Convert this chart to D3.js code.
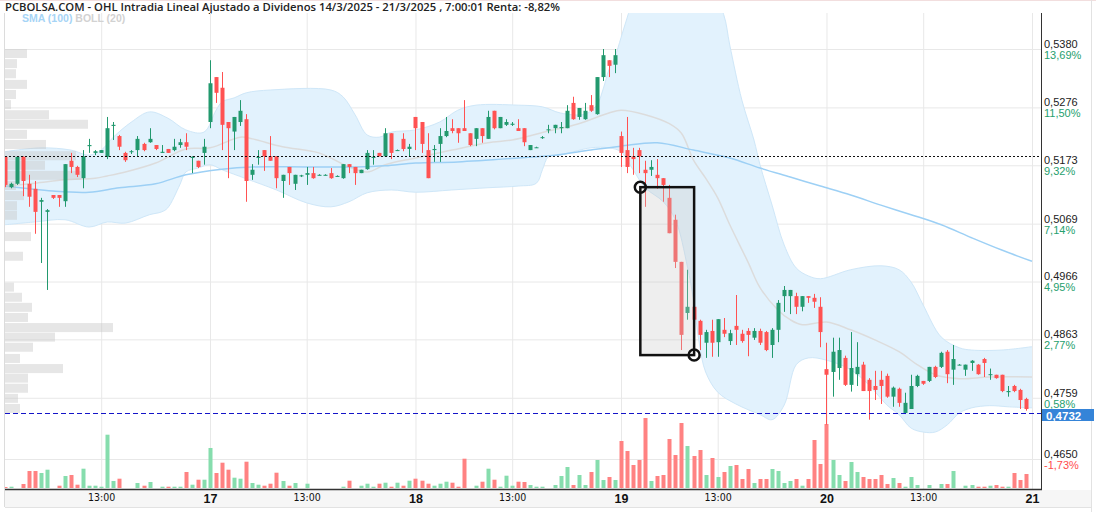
<!DOCTYPE html>
<html>
<head>
<meta charset="utf-8">
<script src="https://cdn.jsdelivr.net/npm/d3@7"></script>
<style>
body { margin: 0; background: #fff; }
svg { display: block; font-family: "Liberation Sans", Arial, sans-serif; }
</style>
</head>
<body>
<div id="chart"></div>
<script>
// 15 minute candles, 14/3 (from 9:00) to 20/3 close; index 0 = 14/3 9:00
var opens = [
  .5188,.5134,.5140,.5188,.5140,.5131,.5108,.5090,.5120,.5120,.5109,.5181,.5170,.5150,.5207,.5195,.5195,.5188,.5243,.5225,
  .5195,.5197,.5200,.5211,.5214,.5209,.5195,.5202,.5200,.5209,.5214,.5186,.5181,.5195,
  // 17
  .5250,.5330,.5311,.5250,.5233,.5250,.5255,.5156,.5186,.5200,.5189,.5189,.5145,.5170,.5140,.5154,.5156,.5159,.5156,.5156,
  .5159,.5154,.5150,.5175,.5170,.5159,.5166,.5186,.5195,.5189,.5230,.5200,.5220,.5202,
  // 18
  .5259,.5250,.5200,.5200,.5211,.5225,.5239,.5239,.5239,.5230,.5220,.5239,.5220,.5270,.5239,.5245,.5245,.5239,.5239,.5200,
  .5205,.5222,.5236,.5239,.5239,.5239,.5284,.5259,.5255,.5280,.5264,.5330,.5360,.5352,
  // 19
  .5225,.5200,.5189,.5200,.5165,.5165,.5156,.5150,.5115,.5076,.5001,.4910,.4921,.4896,.4857,.4878,.4858,.4880,.4860,.4887,
  .4873,.4878,.4866,.4878,.4876,.4853,.4880,.4940,.4940,.4940,.4921,.4940,.4937,.4921,
  // 20
  .4810,.4805,.4812,.4830,.4782,.4801,.4818,.4791,.4780,.4791,.4798,.4761,.4775,.4732,.4739,.4780,.4789,.4789,.4814,.4814,
  .4841,.4809,.4818,.4809,.4821,.4818,.4828,.4800,.4800,.4800,.4769,.4780,.4773,.4757
];
var highs = [
  .5189,.5142,.5189,.5189,.5156,.5145,.5115,.5095,.5120,.5120,.5175,.5195,.5172,.5200,.5220,.5200,.5200,.5259,.5250,.5227,
  .5197,.5200,.5225,.5213,.5239,.5209,.5209,.5202,.5220,.5220,.5230,.5189,.5181,.5220,
  .5360,.5330,.5339,.5250,.5259,.5289,.5264,.5175,.5200,.5200,.5225,.5189,.5156,.5170,.5156,.5156,.5170,.5170,.5157,.5157,
  .5168,.5155,.5175,.5175,.5170,.5165,.5200,.5200,.5195,.5239,.5230,.5201,.5230,.5211,
  .5259,.5250,.5230,.5209,.5239,.5259,.5255,.5239,.5289,.5230,.5239,.5239,.5270,.5270,.5259,.5255,.5250,.5255,.5239,.5209,
  .5206,.5225,.5245,.5245,.5250,.5280,.5295,.5275,.5284,.5298,.5330,.5380,.5360,.5380,
  .5233,.5259,.5204,.5204,.5181,.5182,.5184,.5150,.5138,.5085,.5001,.4987,.4924,.4898,.4880,.4898,.4899,.4901,.4880,.4942,
  .4880,.4883,.4883,.4882,.4878,.4883,.4933,.4958,.4951,.4946,.4940,.4940,.4944,.4938,
  .4857,.4866,.4866,.4834,.4876,.4858,.4823,.4794,.4807,.4807,.4802,.4779,.4777,.4768,.4800,.4800,.4789,.4814,.4816,.4841,
  .4844,.4853,.4819,.4818,.4826,.4819,.4830,.4811,.4800,.4800,.4780,.4782,.4775,.4759
];
var lows = [
  .5134,.5132,.5138,.5118,.5099,.5051,.4999,.4951,.5113,.5099,.5099,.5159,.5152,.5132,.5195,.5191,.5195,.5184,.5218,.5200,
  .5179,.5193,.5188,.5198,.5213,.5200,.5195,.5195,.5198,.5204,.5200,.5159,.5168,.5174,
  .5239,.5284,.5200,.5150,.5200,.5243,.5108,.5147,.5174,.5163,.5181,.5132,.5115,.5138,.5129,.5152,.5138,.5149,.5155,.5155,
  .5149,.5153,.5149,.5159,.5138,.5159,.5165,.5174,.5189,.5189,.5184,.5199,.5198,.5189,
  .5200,.5195,.5150,.5179,.5179,.5223,.5230,.5213,.5234,.5207,.5207,.5213,.5220,.5237,.5239,.5243,.5243,.5234,.5207,.5200,
  .5204,.5220,.5230,.5230,.5230,.5239,.5254,.5254,.5254,.5268,.5263,.5323,.5330,.5337,
  .5170,.5159,.5156,.5159,.5099,.5154,.5131,.5108,.5052,.4990,.4844,.4898,.4898,.4844,.4830,.4832,.4832,.4867,.4853,.4853,
  .4857,.4833,.4862,.4853,.4842,.4830,.4858,.4912,.4908,.4908,.4913,.4928,.4919,.4849,
  .4711,.4761,.4791,.4780,.4770,.4780,.4771,.4720,.4755,.4748,.4759,.4743,.4743,.4730,.4739,.4778,.4782,.4787,.4794,.4812,
  .4785,.4782,.4817,.4798,.4807,.4800,.4796,.4791,.4793,.4769,.4761,.4769,.4739,.4736
];
var closes = [
  .5138,.5140,.5188,.5145,.5117,.5090,.5111,.5093,.5115,.5115,.5175,.5170,.5156,.5189,.5209,.5198,.5200,.5239,.5245,.5206,
  .5182,.5198,.5220,.5200,.5220,.5202,.5197,.5195,.5206,.5214,.5206,.5188,.5170,.5206,
  .5319,.5302,.5245,.5239,.5259,.5270,.5145,.5165,.5188,.5189,.5181,.5150,.5156,.5159,.5156,.5155,.5159,.5150,.5156,.5156,
  .5150,.5154,.5175,.5170,.5159,.5165,.5195,.5188,.5189,.5230,.5195,.5200,.5202,.5206,
  .5239,.5211,.5150,.5202,.5225,.5234,.5234,.5230,.5234,.5209,.5239,.5225,.5259,.5239,.5259,.5250,.5247,.5234,.5214,.5209,
  .5205,.5223,.5237,.5245,.5241,.5270,.5255,.5275,.5270,.5270,.5330,.5369,.5350,.5369,
  .5195,.5170,.5184,.5189,.5159,.5170,.5150,.5138,.5052,.5001,.4871,.4921,.4898,.4871,.4876,.4857,.4899,.4873,.4874,.4880,
  .4860,.4871,.4878,.4857,.4844,.4880,.4928,.4951,.4951,.4921,.4940,.4937,.4930,.4876,
  .4800,.4841,.4844,.4782,.4812,.4814,.4771,.4771,.4773,.4780,.4761,.4777,.4750,.4750,.4780,.4798,.4784,.4814,.4796,.4839,
  .4801,.4828,.4818,.4818,.4825,.4801,.4821,.4801,.4794,.4771,.4771,.4771,.4755,.4739
];
// volume, thousands of shares
var volumes = [
  10,13,0,40,170,170,150,183,0,23,120,130,33,193,23,23,13,533,70,93,
  0,0,50,23,60,0,13,13,13,13,160,33,83,83,
  400,150,253,183,103,93,263,50,33,23,43,153,70,23,50,0,43,0,0,0,
  0,0,13,73,0,23,43,13,43,53,13,53,23,73,
  93,73,43,23,43,63,53,13,293,0,23,63,193,83,13,123,23,63,60,30,
  13,13,0,30,120,210,30,130,30,160,280,80,110,80,
  470,370,230,280,700,70,120,130,490,330,650,420,320,380,130,300,110,160,220,230,
  90,190,50,90,90,190,170,50,70,90,23,90,480,240,
  640,280,130,70,260,160,110,90,90,130,40,100,50,13,110,30,0,30,0,40,
  40,170,0,23,30,13,13,23,30,13,13,150,80,140
];

// indicators: [candle index, price]
var bollUpper = [[0,.5197],[6,.5204],[11,.5200],[14,.5191],[16,.5200],[18,.5223],[21,.5250],[24,.5268],[27,.5257],[30,.5236],
  [33,.5232],[35,.5271],[36,.5286],[38,.5293],[40,.5302],[44,.5307],[54,.5307],[56,.5295],[58,.5263],[60,.5227],[62,.5223],
  [64,.5232],[68,.5236],[72,.5250],[75,.5271],[78,.5280],[85,.5280],[89,.5277],[92,.5266],[96,.5264],[98,.5280],[99,.5307],
  [100,.5343],[101,.5366],[102,.5400],[103,.5435],[104,.5467],[106,.5503],[110,.5521],[115,.5512],[117,.5485],[119,.5441],
  [120,.5387],[122,.5289],[124,.5218],[125,.5174],[127,.5102],[129,.5031],[131,.4990],[133,.4976],[135,.4971],[140,.4987],
  [145,.4994],[148,.4987],[150,.4965],[152,.4924],[155,.4867],[158,.4848],[160,.4844],[165,.4844],[170,.4850]];
var bollLower = [[0,.5067],[5,.5072],[10,.5076],[14,.5063],[17,.5072],[20,.5070],[24,.5085],[26,.5090],[27,.5097],[29,.5138],
  [30,.5161],[32,.5168],[34,.5174],[36,.5165],[40,.5149],[45,.5129],[50,.5106],[54,.5099],[57,.5108],[60,.5124],[64,.5129],
  [68,.5125],[74,.5129],[80,.5133],[85,.5136],[88,.5141],[89,.5165],[90,.5188],[92,.5191],[97,.5204],[100,.5204],[102,.5197],
  [104,.5165],[106,.5133],[109,.5108],[111,.5076],[113,.4992],[114,.4933],[115,.4853],[116,.4805],[118,.4769],[121,.4748],
  [125,.4729],[127,.4720],[129,.4746],[131,.4818],[133,.4830],[136,.4826],[140,.4809],[143,.4782],[146,.4746],[148,.4729],
  [150,.4705],[152,.4698],[154,.4698],[156,.4711],[158,.4732],[160,.4741],[163,.4745],[166,.4743],[170,.4741]];
var bollMid = [[0,.5136],[5,.5141],[10,.5147],[15,.5150],[17,.5154],[20,.5161],[25,.5177],[30,.5202],[34,.5204],[39,.5223],
  [41,.5220],[46,.5206],[52,.5195],[57,.5170],[60,.5161],[63,.5174],[68,.5186],[74,.5200],[80,.5213],[84,.5218],[90,.5234],
  [95,.5247],[100,.5266],[102,.5271],[106,.5263],[110,.5247],[112,.5230],[114,.5182],[116,.5150],[118,.5115],[120,.5067],
  [123,.5001],[125,.4955],[128,.4915],[130,.4898],[132,.4889],[136,.4894],[140,.4880],[144,.4862],[148,.4841],[151,.4818],
  [154,.4800],[158,.4793],[163,.4796],[170,.4796]];
var sma100 = [[0,.5136],[8,.5127],[14,.5125],[19,.5133],[25,.5140],[30,.5156],[36,.5166],[41,.5170],[50,.5170],[58,.5170],
  [63,.5172],[68,.5177],[75,.5179],[85,.5186],[91,.5191],[97,.5200],[102,.5207],[108,.5213],[114,.5200],[120,.5186],
  [125,.5168],[130,.5152],[135,.5136],[140,.5120],[145,.5102],[150,.5085],[155,.5067],[160,.5044],[165,.5022],[170,.5002]];

// volume profile on the left: bin top price / volume
var profileTop = [.5380,.5362,.5344,.5325,.5307,.5289,.5271,.5254,.5236,.5218,.5198,.5181,.5163,.5145,.5127,.5109,.5092,.5072,
  .5054,.5036,.5019,.5001,.4983,.4964,.4946,.4928,.4910,.4892,.4875,.4857,.4837,.4819,.4802,.4784,.4766,.4748];
var profileVol = [22,12,11,22,11,6,44,83,22,41,71,40,76,11,19,12,12,0,26,0,18,0,0,9,17,27,23,108,50,28,15,58,23,23,13,15];

var priceTicks = [0.5380, 0.5276, 0.5173, 0.5069, 0.4966, 0.4863, 0.4759, 0.4650];
var priceLabels = ['0,5380', '0,5276', '0,5173', '0,5069', '0,4966', '0,4863', '0,4759', '0,4650'];
var pctLabels = ['13,69%', '11,50%', '9,32%', '7,14%', '4,95%', '2,77%', '0,58%', '-1,73%'];
var timeIdx = [16, 34, 50, 68, 84, 102, 118, 136, 152, 170];
var timeLabels = ['13:00', '17', '13:00', '18', '13:00', '19', '13:00', '20', '13:00', '21'];

var refPrice = 0.5189, lastPrice = 0.4732;
// drawn rectangle: [candle index, price] corners
var box = [[105.2, 0.5134], [114.1, 0.4835]];

var title = 'PCBOLSA.COM - OHL Intradia Lineal Ajustado a Dividenos 14/3/2025 - 21/3/2025 , 7:00:01 Renta: -8,82%';

///////////////////////////////////////////////////////////////
var pL = 5, pR = 1041, pT = 13, pB = 489;
var green = '#22996e', red = '#ff5252';

var svg = d3.select('#chart').append('svg')
    .attr('width', 1096)
    .attr('height', 512);

var x = d3.scaleLinear().domain([0, 170]).range([4.5, 4.5 + 170 * 6.044]);
var y = d3.scaleLinear().domain([0.4650, 0.5380]).range([459, 49]);
var yv = d3.scaleLinear().domain([0, 700]).range([488, 418]);
var xp = d3.scaleLinear().domain([0, 108]).range([0, 108]);

svg.append('defs').append('clipPath').attr('id', 'plotclip')
    .append('rect').attr('x', pL).attr('y', pT).attr('width', pR - pL).attr('height', pB - pT);

// top border + title
svg.append('line').attr('x1', 0).attr('x2', 1096).attr('y1', 0.5).attr('y2', 0.5).attr('stroke', '#f2dede');
svg.append('text')
    .attr('x', 5).attr('y', 11)
    .attr('font-family', '"Open Sans", "Noto Sans", sans-serif')
    .attr('font-weight', 600)
    .attr('font-size', 11)
    .attr('fill', '#222')
    .attr('textLength', 555)
    .attr('lengthAdjust', 'spacingAndGlyphs')
    .text(title);

// grid
var gridH = svg.append('g').attr('transform', 'translate(' + pL + ',0)')
    .call(d3.axisLeft(y).tickValues(priceTicks).tickSize(-(pR - pL)).tickFormat(''));
gridH.select('.domain').remove();
gridH.selectAll('line').attr('stroke', '#e8e8e8');

var gridV = svg.append('g').attr('transform', 'translate(0,' + pB + ')')
    .call(d3.axisBottom(x).tickValues(timeIdx).tickSize(-(pB - pT)).tickFormat(''));
gridV.select('.domain').remove();
gridV.selectAll('line').attr('stroke', '#e8e8e8');

svg.append('line').attr('x1', 4.5).attr('x2', 4.5).attr('y1', pT).attr('y2', 507).attr('stroke', '#dcdcdc');

var plot = svg.append('g').attr('clip-path', 'url(#plotclip)');

// bollinger band
var line = d3.line().x(d => x(d[0])).y(d => y(d[1])).curve(d3.curveCatmullRom);
var upPath = line(bollUpper), loPath = line(bollLower.slice().reverse());
plot.append('path')
    .attr('d', upPath + 'L' + loPath.slice(1) + 'Z')
    .attr('fill', '#e2f2fd');
plot.append('path').attr('d', upPath).attr('fill', 'none').attr('stroke', '#cfe7f8');
plot.append('path').attr('d', line(bollLower)).attr('fill', 'none').attr('stroke', '#cfe7f8');
plot.append('path').attr('d', line(bollMid)).attr('fill', 'none').attr('stroke', '#dcdcdc').attr('stroke-width', 1.5);
plot.append('path').attr('d', line(sma100)).attr('fill', 'none').attr('stroke', '#9dd0f5').attr('stroke-width', 1.5);

// volume profile
plot.selectAll('.prof')
    .data(profileTop)
    .enter()
    .append('rect')
    .attr('class', 'prof')
    .attr('x', pL)
    .attr('y', d => y(d))
    .attr('width', (d, i) => xp(profileVol[i]))
    .attr('height', d => y(d - 0.0016) - y(d))
    .attr('fill', 'rgba(200,200,200,0.45)');

// volume bars
plot.selectAll('.vol')
    .data(volumes)
    .enter()
    .append('rect')
    .attr('class', 'vol')
    .attr('x', (d, i) => Math.round(x(i)) - 1.5)
    .attr('y', d => yv(d))
    .attr('width', 4)
    .attr('height', d => yv(0) - yv(d))
    .attr('fill', (d, i) => closes[i] >= opens[i] ? '#86ddad' : '#ff8282');

// candles
var candles = plot.selectAll('.candle')
    .data(opens)
    .enter()
    .append('g')
    .attr('class', 'candle');

candles.append('line')
    .attr('x1', (d, i) => Math.round(x(i)) + 0.5)
    .attr('x2', (d, i) => Math.round(x(i)) + 0.5)
    .attr('y1', (d, i) => y(highs[i]))
    .attr('y2', (d, i) => y(lows[i]))
    .attr('stroke', (d, i) => closes[i] >= opens[i] ? green : red)
    .attr('stroke-width', 1);

candles.append('rect')
    .attr('x', (d, i) => Math.round(x(i)) - 1.5)
    .attr('y', (d, i) => y(Math.max(opens[i], closes[i])))
    .attr('width', 4)
    .attr('height', (d, i) => Math.max(1, Math.abs(y(opens[i]) - y(closes[i]))))
    .attr('fill', (d, i) => closes[i] >= opens[i] ? green : red);

// reference (open) price
plot.append('line')
    .attr('x1', pL).attr('x2', pR)
    .attr('y1', Math.round(y(refPrice)) + 0.5).attr('y2', Math.round(y(refPrice)) + 0.5)
    .attr('stroke', '#111').attr('stroke-dasharray', '2,2');

// drawn rectangle
plot.append('rect')
    .attr('x', x(box[0][0]))
    .attr('y', y(box[0][1]))
    .attr('width', x(box[1][0]) - x(box[0][0]))
    .attr('height', y(box[1][1]) - y(box[0][1]))
    .attr('fill', 'rgba(200,200,200,0.3)')
    .attr('stroke', '#111')
    .attr('stroke-width', 2.5);

plot.selectAll('.handle')
    .data(box)
    .enter()
    .append('circle')
    .attr('class', 'handle')
    .attr('cx', d => x(d[0]))
    .attr('cy', d => y(d[1]))
    .attr('r', 5.5)
    .attr('fill', 'none')
    .attr('stroke', '#111')
    .attr('stroke-width', 2.5);

// last price line
var yl = Math.round(y(lastPrice)) + 0.5;
plot.append('line')
    .attr('x1', pL).attr('x2', pR)
    .attr('y1', yl).attr('y2', yl)
    .attr('stroke', '#1414c8').attr('stroke-width', 1.2).attr('stroke-dasharray', '5,3');

// legend
var leg = svg.append('text').attr('x', 22).attr('y', 22)
    .attr('font-size', 10.5).attr('font-weight', 'bold');
leg.append('tspan').attr('fill', '#a6d4f6').text('SMA (100) ');
leg.append('tspan').attr('fill', '#d2d2d2').text('BOLL (20)');

// right axis
svg.append('line').attr('x1', pR + 0.5).attr('x2', pR + 0.5).attr('y1', pT).attr('y2', pB)
    .attr('stroke', '#333');
svg.append('line').attr('x1', 1091.5).attr('x2', 1091.5).attr('y1', 0).attr('y2', 512)
    .attr('stroke', '#e2e2e2');

var ga = svg.append('g').attr('transform', 'translate(' + pR + ',0)')
    .call(d3.axisRight(y).tickValues(priceTicks).tickSize(0).tickPadding(3).tickFormat((d, i) => priceLabels[i]));
ga.select('.domain').remove();
ga.selectAll('text').attr('dy', '-0.15em').attr('font-size', 11)
    .attr('font-family', '"Liberation Sans", Arial, sans-serif').attr('fill', '#222');

var gp = svg.append('g').attr('transform', 'translate(' + pR + ',0)')
    .call(d3.axisRight(y).tickValues(priceTicks).tickSize(0).tickPadding(3).tickFormat((d, i) => pctLabels[i]));
gp.select('.domain').remove();
gp.selectAll('text').attr('dy', '0.85em').attr('font-size', 11)
    .attr('font-family', '"Liberation Sans", Arial, sans-serif')
    .attr('fill', (d, i) => pctLabels[i].charAt(0) === '-' ? '#ff4d4d' : '#26a06e');

svg.append('rect')
    .attr('x', pR + 1).attr('y', yl - 4.5)
    .attr('width', 52).attr('height', 12)
    .attr('fill', '#3584d8');
svg.append('text')
    .attr('x', pR + 5).attr('y', yl + 6)
    .attr('font-size', 11.5).attr('font-weight', 'bold').attr('fill', '#fff')
    .text(lastPrice.toFixed(4).replace('.', ','));

// bottom axis
svg.append('rect').attr('x', pL).attr('y', pB + 1).attr('width', 1091 - pL).attr('height', 17)
    .attr('fill', '#f6f6f6');
svg.append('line').attr('x1', pL).attr('x2', 1091).attr('y1', 507.5).attr('y2', 507.5).attr('stroke', '#e2e2e2');
svg.append('line').attr('x1', pL).attr('x2', pR + 1).attr('y1', pB + 0.5).attr('y2', pB + 0.5)
    .attr('stroke', '#333').attr('stroke-width', 1.5);

var gx = svg.append('g').attr('transform', 'translate(0,' + pB + ')')
    .call(d3.axisBottom(x).tickValues(timeIdx).tickSize(0).tickPadding(5).tickFormat((d, i) => timeLabels[i]));
gx.select('.domain').remove();
gx.selectAll('text')
    .attr('fill', '#111')
    .each(function (d, i) {
        var day = timeLabels[i].indexOf(':') < 0;
        d3.select(this)
            .attr('font-size', day ? 12.5 : 10.5)
            .attr('font-weight', day ? 'bold' : 'normal')
            .attr('font-family', day ? '"Liberation Sans", Arial, sans-serif' : '"Liberation Sans Narrow", "DejaVu Sans Condensed", sans-serif');
    });
</script>
</body>
</html>
